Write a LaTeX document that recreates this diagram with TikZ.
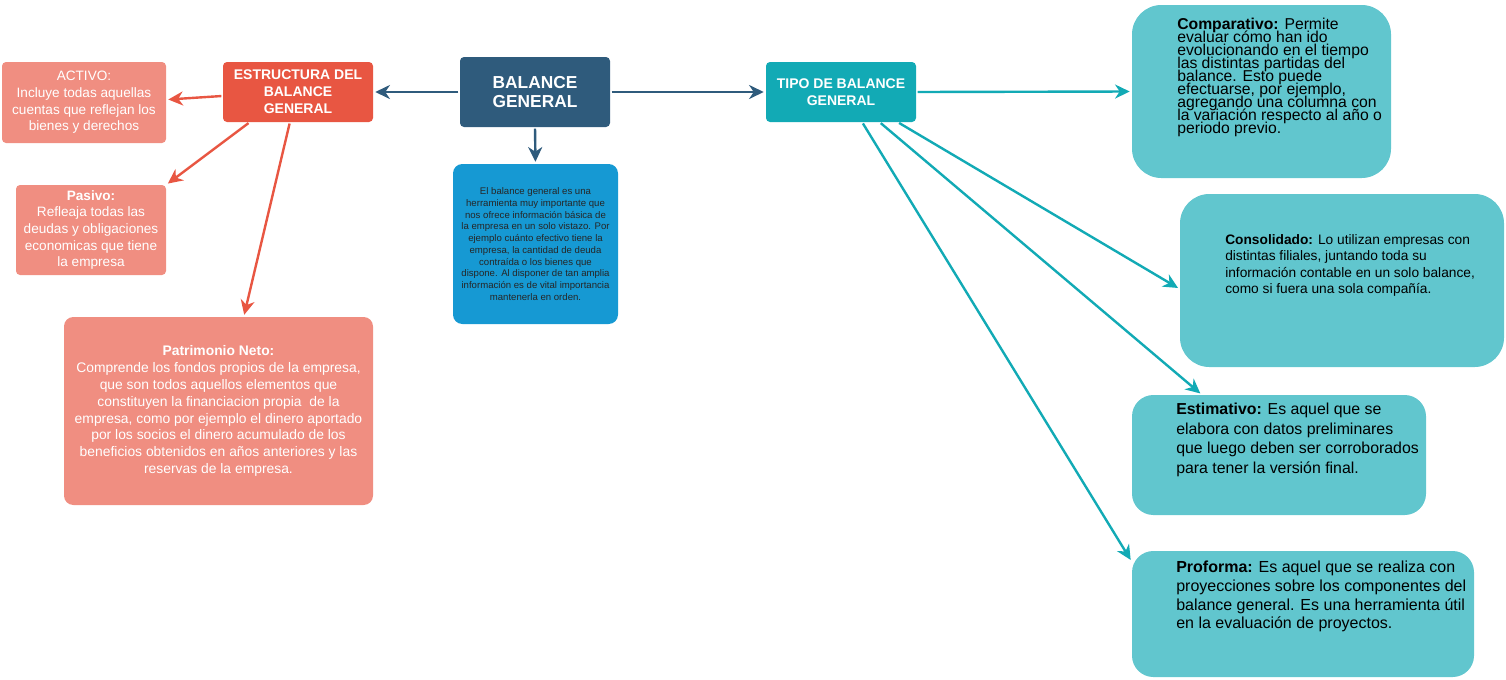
\documentclass[tikz,border=0pt]{standalone}
\usepackage{fontspec}
\setmainfont{Liberation Sans}
\usetikzlibrary{arrows.meta}
\definecolor{azuloscuro}{HTML}{2F5B7C}
\definecolor{rojo}{HTML}{E85642}
\definecolor{salmon}{HTML}{F08E81}
\definecolor{azul}{HTML}{1699D3}
\definecolor{turquesa}{HTML}{12AAB5}
\definecolor{turquesaclaro}{HTML}{61C6CE}
\newcommand\apretado{\lineskiplimit=-20pt\relax}
\tikzset{
  caja/.style={rounded corners=3pt, inner sep=0pt, align=center, text=white},
  flecha/.style={line width=1.8pt, -{Stealth[length=11pt,width=10.5pt,inset=3.5pt]}, shorten <=1pt, shorten >=1.5pt},
  textotipo/.style={anchor=north west, inner sep=0pt, align=left, text=black},
}
\begin{document}
\begin{tikzpicture}[x=0.75pt,y=-0.75pt]
	\useasboundingbox (0,0) rectangle (1506,679);
	\node[caja,fill=azuloscuro,minimum width=112.5pt,minimum height=52.5pt,font=\fontsize{13}{14.5}\selectfont\bfseries] (balance) at (535,92) {BALANCE\\GENERAL};
	\node[caja,fill=rojo,minimum width=112.5pt,minimum height=45pt,font=\fontsize{10.5}{12.8}\selectfont\bfseries] (estructura) at (298,92) {ESTRUCTURA DEL\\BALANCE\\GENERAL};
	\node[caja,fill=turquesa,minimum width=112.5pt,minimum height=45pt,font=\fontsize{10.5}{12.8}\selectfont\bfseries] (tipo) at (841,92) {TIPO DE BALANCE\\GENERAL};
	\node[caja,fill=azul,rounded corners=7pt,minimum width=123.75pt,minimum height=120pt,text=black!85,font=\fontsize{7.2}{8.8}\selectfont] (definicion) at (535.5,244) {El balance general es una\\herramienta muy importante que\\nos ofrece información básica de\\la empresa en un solo vistazo. Por\\ejemplo cuánto efectivo tiene la\\empresa, la cantidad de deuda\\contraída o los bienes que\\dispone. Al disponer de tan amplia\\información es de vital importancia\\mantenerla en orden.};
	\node[caja,fill=salmon,minimum width=123pt,minimum height=60.75pt,font=\fontsize{10.2}{12.5}\selectfont] (activo) at (84,102.5) {ACTIVO:\\Incluye todas aquellas\\cuentas que reflejan los\\bienes y derechos};
	\node[caja,fill=salmon,minimum width=112.5pt,minimum height=67.5pt,font=\fontsize{10.2}{12.5}\selectfont] (pasivo) at (91,230) {\textbf{Pasivo:}\\Refleaja todas las\\deudas y obligaciones\\economicas que tiene\\la empresa};
	\node[caja,fill=salmon,rounded corners=7pt,minimum width=231.75pt,minimum height=141pt,font=\fontsize{10.4}{12.7}\selectfont] (patrimonio) at (218.5,411) {\textbf{Patrimonio Neto:}\\Comprende los fondos propios de la empresa,\\que son todos aquellos elementos que\\constituyen la financiacion propia \ de la\\empresa, como por ejemplo el dinero aportado\\por los socios el dinero acumulado de los\\beneficios obtenidos en años anteriores y las\\reservas de la empresa.};
	\node[caja,fill=turquesaclaro,rounded corners=22pt,minimum width=194.25pt,minimum height=129.75pt] (comparativo) at (1261.5,91.5) {};
	\node[caja,fill=turquesaclaro,rounded corners=22pt,minimum width=243pt,minimum height=129.75pt] (consolidado) at (1342,280.5) {};
	\node[caja,fill=turquesaclaro,rounded corners=16pt,minimum width=220.5pt,minimum height=90pt] (estimativo) at (1279,455) {};
	\node[caja,fill=turquesaclaro,rounded corners=16pt,minimum width=256.5pt,minimum height=94.5pt] (proforma) at (1303,614) {};
	\node[textotipo,font=\fontsize{11.8}{9.75}\selectfont\apretado] (comparativotxt) at (1177,18) {\textbf{Comparativo:} Permite\\evaluar cómo han ido\\evolucionando en el tiempo\\las distintas partidas del\\balance. Esto puede\\efectuarse, por ejemplo,\\agregando una columna con\\la variación respecto al año o\\periodo previo.};
	\node[textotipo,font=\fontsize{10.3}{12.3}\selectfont] (consolidadotxt) at (1225,234) {\textbf{Consolidado:} Lo utilizan empresas con\\distintas filiales, juntando toda su\\información contable en un solo balance,\\como si fuera una sola compañía.};
	\node[textotipo,font=\fontsize{11.9}{14.7}\selectfont] (estimativotxt) at (1176,403) {\textbf{Estimativo:} Es aquel que se\\elabora con datos preliminares\\que luego deben ser corroborados\\para tener la versión final.};
	\node[textotipo,font=\fontsize{12}{14}\selectfont] (proformatxt) at (1176,561) {\textbf{Proforma:} Es aquel que se realiza con\\proyecciones sobre los componentes del\\balance general. Es una herramienta útil\\en la evaluación de proyectos.};
	\draw[flecha,azuloscuro] (balance.west) -- (estructura.east);
	\draw[flecha,azuloscuro] (balance.east) -- (tipo.west);
	\draw[flecha,azuloscuro] (balance.south) -- (definicion.north);
	\draw[flecha,rojo] (estructura.183) -- (activo.2);
	\draw[flecha,rojo] (estructura.212) -- (pasivo.north east);
	\draw[flecha,rojo] (estructura.255) -- (patrimonio.75);
	\draw[flecha,turquesa] (tipo.east) -- (comparativo.west);
	\draw[flecha,turquesa] (tipo.332) -- (consolidado.183);
	\draw[flecha,turquesa] (tipo.322) -- (estimativo.142);
	\draw[flecha,turquesa] (tipo.305) -- (proforma.163);
\end{tikzpicture}
\end{document}
